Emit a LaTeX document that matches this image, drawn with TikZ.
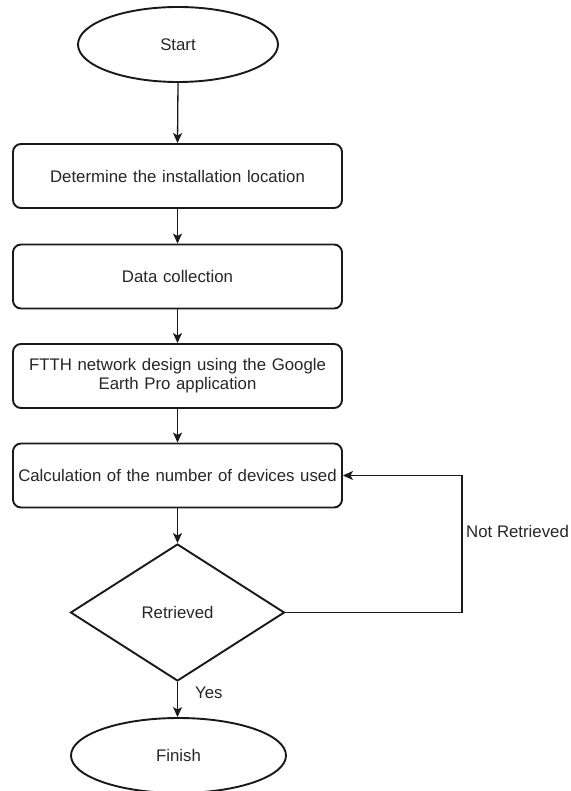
\documentclass[tikz,border=0pt]{standalone}
\usepackage{fontspec}
\setmainfont{Liberation Sans}
\usetikzlibrary{shapes.geometric,arrows.meta}
\tikzset{
  every node/.style={font=\fontsize{16.8pt}{19pt}\selectfont, text=black!85},
  procbox/.style={draw=black!90, line width=1.9pt, rounded corners=8pt, minimum width=329pt, minimum height=64pt, inner sep=0pt, align=center, text width=325pt},
  term/.style={draw=black!90, line width=1.9pt, ellipse, inner sep=0pt},
  decide/.style={draw=black!90, line width=1.9pt, diamond, minimum width=214pt, minimum height=137pt, inner sep=0pt},
  flow/.style={draw=black!90, line width=1.3pt, -{Stealth[length=10pt,width=9pt,inset=2.5pt]}},
  lbl/.style={anchor=west, inner sep=0pt}
}
\begin{document}
\begin{tikzpicture}[x=1pt,y=-1pt]
\useasboundingbox (0,0) rectangle (570,791);
\node[term, minimum width=200pt, minimum height=75pt] (start) at (178,44.5) {Start};
\node[procbox] (b1) at (177.5,176) {Determine the installation location};
\node[procbox] (b2) at (177.5,276.5) {Data collection};
\node[procbox] (b3) at (177.5,376) {FTTH network design using the Google\\Earth Pro application};
\node[procbox] (b4) at (177.5,475.5) {Calculation of the number of devices used};
\node[decide] (dec) at (177.5,612.5) {Retrieved};
\node[term, minimum width=215pt, minimum height=75pt] (fin) at (178.5,755.5) {Finish};
\coordinate (c1) at (462,612.5);
\coordinate (c2) at (462,475.5);
\draw[flow] (start.south) -- (b1.north);
\draw[flow] (b1.south) -- (b2.north);
\draw[flow] (b2.south) -- (b3.north);
\draw[flow] (b3.south) -- (b4.north);
\draw[flow] (b4.south) -- (dec.north);
\draw[flow] (dec.south) -- (fin.north -| dec.south);
\draw[flow] (dec.east) -- (c1) -- (c2) -- (b4.east);
\node[lbl] (nr) at (466,531) {Not Retrieved};
\node[lbl] (yes) at (195,693) {Yes};
\end{tikzpicture}
\end{document}
